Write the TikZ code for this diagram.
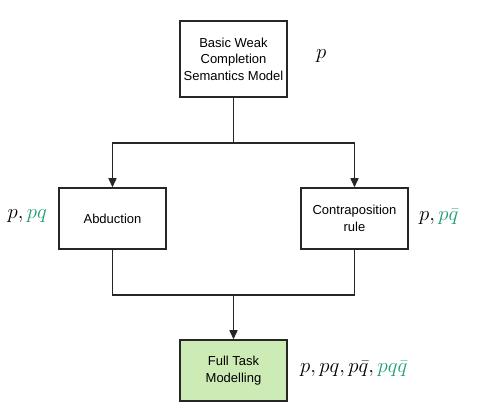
\documentclass[tikz,border=0pt]{standalone}
\usepackage{fontspec}
\setsansfont{Liberation Sans}
\usetikzlibrary{arrows.meta}
\definecolor{boxgreen}{HTML}{CDEBB4}
\definecolor{mgreen}{HTML}{1E9E6E}
\begin{document}
\begin{tikzpicture}[x=1pt,y=-1pt,
  box/.style={draw=black!85,line width=1.5pt,minimum width=107pt,align=center,
    font=\sffamily\fontsize{13}{16.5}\selectfont,inner sep=0pt},
  lab/.style={font=\fontsize{22}{24}\selectfont,inner sep=0pt},
  conn/.style={draw=black!85,line width=1.5pt},
  arr/.style={conn,-{Triangle[length=9pt,width=8pt]}}]
\useasboundingbox (0,0) rectangle (498,419);
\node[box,minimum height=76pt] (top) at (233.5,59) {Basic Weak\\Completion\\Semantics Model};
\node[box,minimum height=61pt] (abd) at (112.5,218.5) {Abduction};
\node[box,minimum height=61pt] (con) at (354.5,218.5) {Contraposition\\rule};
\node[box,minimum height=61pt,fill=boxgreen] (full) at (233.5,370.5) {Full Task\\Modelling};
\node[lab,anchor=west] (lp) at (316,56) {$p$};
\node[lab,anchor=east] (la) at (47,216) {$p, \textcolor{mgreen}{pq}$};
\node[lab,anchor=west] (lc) at (419,217) {$p, \textcolor{mgreen}{p\bar{q}}$};
\node[lab,anchor=west] (lf) at (300,369) {$p, pq, p\bar{q}, \textcolor{mgreen}{pq\bar{q}}$};
\coordinate (j1) at (233.5,143);
\coordinate (j2) at (233.5,295);
\draw[conn] (top.south) -- (j1);
\draw[arr] (j1) -| (abd.north);
\draw[arr] (j1) -| (con.north);
\draw[conn] (abd.south) |- (j2);
\draw[conn] (con.south) |- (j2);
\draw[arr] (j2) -- (full.north);
\end{tikzpicture}
\end{document}
